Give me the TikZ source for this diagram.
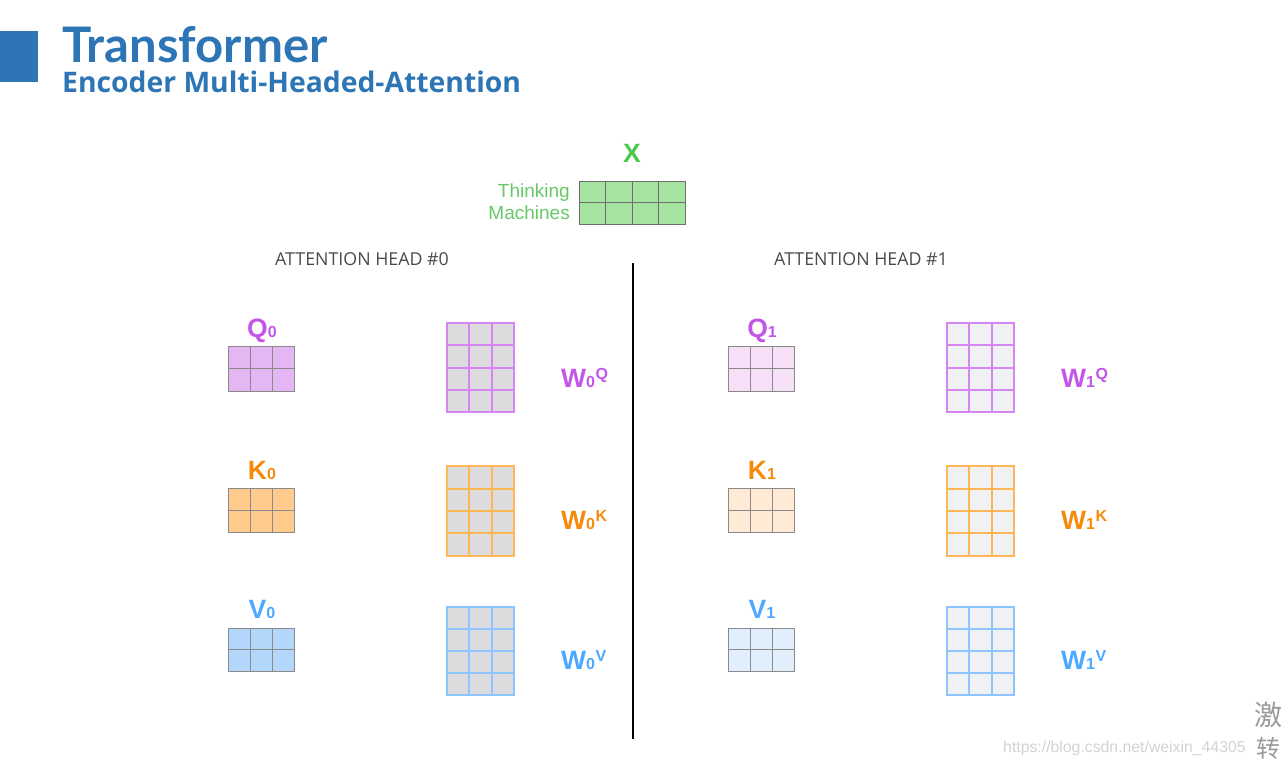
\documentclass[tikz,border=0pt]{standalone}
\usepackage{fontspec}
\setmainfont{Liberation Sans}
\newfontfamily\latof{Lato}
\newfontfamily\opensf{Open Sans}
\newfontfamily\cjkf{Noto Sans CJK SC}
\definecolor{titleblue}{HTML}{2E75B6}
\definecolor{xgreen}{HTML}{4CC94C}
\definecolor{thinkgreen}{HTML}{66C866}
\definecolor{xfill}{HTML}{A5E3A0}
\definecolor{gridgray}{HTML}{6E6E6E}
\definecolor{smallgray}{HTML}{8A8A8A}
\definecolor{headgray}{HTML}{4A4A4A}
\definecolor{qlab}{HTML}{C356E8}
\definecolor{qfillA}{HTML}{E4B6F4}
\definecolor{qfillB}{HTML}{F5E0F8}
\definecolor{qline}{HTML}{D785F2}
\definecolor{klab}{HTML}{F68A0B}
\definecolor{kfillA}{HTML}{FFCC8E}
\definecolor{kfillB}{HTML}{FFEBD5}
\definecolor{kline}{HTML}{FFB654}
\definecolor{vlab}{HTML}{4DA8FF}
\definecolor{vfillA}{HTML}{B3D7FA}
\definecolor{vfillB}{HTML}{E1EEFB}
\definecolor{vline}{HTML}{8CC5FF}
\definecolor{wfillA}{HTML}{DCDCDE}
\definecolor{wfillB}{HTML}{F0F1F3}
\definecolor{wmgray}{HTML}{D2D2D2}
\definecolor{cjkgray}{HTML}{9A9A9A}
\newcommand\subd[1]{{\fontsize{16}{16}\selectfont #1}}
\newcommand\supl[1]{\kern0.5pt\raisebox{7.5pt}{\fontsize{16}{16}\selectfont #1}}
\newcommand\mgrid[8]{%
  \node[matbox,#8,minimum width={#4*#6pt},minimum height={#5*#7pt}] (#1) at (#2,#3) {};
  \pgfmathtruncatemacro\gcols{#4-1}\pgfmathtruncatemacro\grows{#5-1}%
  \foreach \i in {1,...,\gcols}{\draw[#8] ([xshift=\i*#6pt]#1.north west) -- ([xshift=\i*#6pt]#1.south west);}%
  \foreach \j in {1,...,\grows}{\draw[#8] ([yshift=-\j*#7pt]#1.north west) -- ([yshift=-\j*#7pt]#1.north east);}%
}
\tikzset{
  matbox/.style={rectangle,inner sep=0pt,outer sep=0pt},
  smallmat/.style={draw=smallgray,line width=1pt},
  wmat/.style={line width=2pt},
  lab/.style={inner sep=0pt,font=\fontsize{26.5}{28}\selectfont\bfseries},
  head/.style={inner sep=0pt,anchor=base west,text=headgray,font=\opensf\fontsize{17.8}{18}\selectfont},
  thin/.style={inner sep=0pt,anchor=base east,text=thinkgreen,font=\fontsize{19}{20}\selectfont},
}
\begin{document}
\begin{tikzpicture}[x=1pt,y=-1pt]
\useasboundingbox (0,0) rectangle (1284,764);
% header
\fill[titleblue] (0,31) rectangle (38,82);
\node[inner sep=0pt,anchor=base west,text=titleblue,font=\latof\bfseries\fontsize{49}{50}\selectfont] (title) at (62,62) {Transformer};
\node[inner sep=0pt,anchor=base west,text=titleblue,font=\opensf\bfseries\fontsize{28.3}{30}\selectfont] (subtitle) at (62,92) {Encoder Multi-Headed-Attention};
% X
\node[lab,anchor=base,text=xgreen] (xlab) at (632,162) {X};
\node[thin] (think) at (570,197) {Thinking};
\node[thin] (mach) at (570,219) {Machines};
\mgrid{X}{632}{202.5}{4}{2}{26.5}{21.5}{smallmat,draw=gridgray,fill=xfill}
% heads
\node[head] (h0) at (275,265) {ATTENTION HEAD \#0};
\node[head] (h1) at (774,265) {ATTENTION HEAD \#1};
\coordinate (ltop) at (633,263);
\coordinate (lbot) at (633,739);
\draw[line width=2pt] (ltop) -- (lbot);
% head 0 small matrices
\mgrid{Q0}{261}{368.5}{3}{2}{22}{22.5}{smallmat,fill=qfillA}
\mgrid{K0}{261}{510}{3}{2}{22}{22}{smallmat,fill=kfillA}
\mgrid{V0}{261}{649.5}{3}{2}{22}{21.5}{smallmat,fill=vfillA}
% head 0 weights
\mgrid{WQ0}{480.5}{367.5}{3}{4}{22.3}{22.25}{wmat,draw=qline,fill=wfillA}
\mgrid{WK0}{480.5}{511}{3}{4}{22.3}{22.4}{wmat,draw=kline,fill=wfillA}
\mgrid{WV0}{480.5}{651}{3}{4}{22.3}{22}{wmat,draw=vline,fill=wfillA}
% head 1 small matrices
\mgrid{Q1}{761}{368.5}{3}{2}{22}{22.5}{smallmat,fill=qfillB}
\mgrid{K1}{761}{510}{3}{2}{22}{22}{smallmat,fill=kfillB}
\mgrid{V1}{761}{649.5}{3}{2}{22}{21.5}{smallmat,fill=vfillB}
% head 1 weights
\mgrid{WQ1}{980.5}{367.5}{3}{4}{22.3}{22.25}{wmat,draw=qline,fill=wfillB}
\mgrid{WK1}{980.5}{511}{3}{4}{22.3}{22.4}{wmat,draw=kline,fill=wfillB}
\mgrid{WV1}{980.5}{651}{3}{4}{22.3}{22}{wmat,draw=vline,fill=wfillB}
% labels head 0
\node[lab,anchor=base,text=qlab] (lq0) at (262,337) {Q\subd{0}};
\node[lab,anchor=base,text=klab] (lk0) at (262,479) {K\subd{0}};
\node[lab,anchor=base,text=vlab] (lv0) at (262,618) {V\subd{0}};
\node[lab,anchor=base west,text=qlab] (lwq0) at (561,387) {W\subd{0}\supl{Q}};
\node[lab,anchor=base west,text=klab] (lwk0) at (561,529) {W\subd{0}\supl{K}};
\node[lab,anchor=base west,text=vlab] (lwv0) at (561,669) {W\subd{0}\supl{V}};
% labels head 1
\node[lab,anchor=base,text=qlab] (lq1) at (762,337) {Q\subd{1}};
\node[lab,anchor=base,text=klab] (lk1) at (762,479) {K\subd{1}};
\node[lab,anchor=base,text=vlab] (lv1) at (762,618) {V\subd{1}};
\node[lab,anchor=base west,text=qlab] (lwq1) at (1061,387) {W\subd{1}\supl{Q}};
\node[lab,anchor=base west,text=klab] (lwk1) at (1061,529) {W\subd{1}\supl{K}};
\node[lab,anchor=base west,text=vlab] (lwv1) at (1061,669) {W\subd{1}\supl{V}};
% watermark
\node[inner sep=0pt,anchor=base west,text=wmgray,font=\fontsize{15.8}{16}\selectfont] (wm) at (1003,752) {https://blog.csdn.net/weixin\_44305};
\node[inner sep=0pt,anchor=base west,text=cjkgray,font=\cjkf\fontsize{28}{30}\selectfont] (act) at (1254,725) {激};
\node[inner sep=0pt,anchor=base west,text=cjkgray,font=\cjkf\fontsize{24}{26}\selectfont] (go) at (1256,757) {转};
\end{tikzpicture}
\end{document}
